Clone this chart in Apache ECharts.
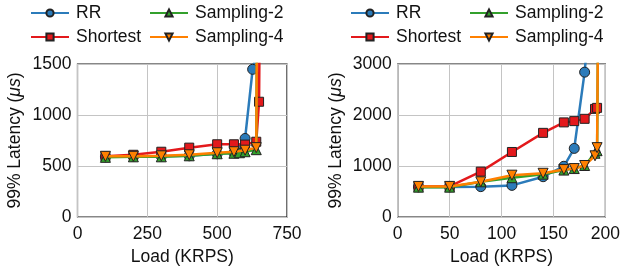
<!DOCTYPE html>
<html><head><meta charset="utf-8">
<script src="https://cdn.jsdelivr.net/npm/echarts@6/dist/echarts.min.js"></script>
<style>html,body{margin:0;padding:0;background:#fff}#c{width:623px;height:271px}</style>
</head><body><div id="c"></div>
<script>
// ---- data ----
const seriesNames = ['RR', 'Shortest', 'Sampling-2', 'Sampling-4'];
const leftXTicks = [0, 250, 500, 750];
const leftYTicks = [0, 500, 1000, 1500];
const rightXTicks = [0, 50, 100, 150, 200];
const rightYTicks = [0, 1000, 2000, 3000];

const leftRRx = [100, 200, 300, 400, 500, 560, 600, 627, 645];
const leftRRy = [590, 595, 595, 600, 620, 630, 770, 1448, 1650];
const leftShortestX = [100, 200, 300, 400, 500, 560, 600, 640, 650, 655];
const leftShortestY = [595, 610, 640, 680, 713, 713, 710, 738, 1130, 3000];
const leftS2x = [100, 200, 300, 400, 500, 560, 580, 600, 640, 645];
const leftS2y = [585, 590, 590, 600, 620, 625, 630, 640, 660, 3000];
const leftS4x = [100, 200, 300, 400, 500, 560, 600, 640, 645];
const leftS4y = [595, 595, 600, 610, 630, 640, 655, 680, 3000];

const rightRRx = [20, 50, 80, 110, 140, 160, 170, 180, 185];
const rightRRy = [590, 590, 595, 620, 790, 995, 1345, 2840, 4000];
const rightShortestX = [20, 50, 80, 110, 140, 160, 170, 180, 190, 192];
const rightShortestY = [600, 600, 890, 1275, 1650, 1855, 1880, 1925, 2120, 2140];
const rightS2x = [20, 50, 80, 110, 140, 160, 170, 180, 190, 192, 193];
const rightS2y = [585, 585, 690, 770, 840, 920, 950, 1010, 1250, 1300, 4000];
const rightS4x = [20, 50, 80, 110, 140, 160, 170, 180, 190, 192, 193];
const rightS4y = [600, 600, 690, 820, 857, 930, 950, 1010, 1200, 1360, 4000];

// ---- styles ----
const colors = ['#2b7bba', '#e3191c', '#33a02c', '#ff8000'];
const symbols = ['circle', 'rect', 'triangle', 'path://M0,0 L10,0 L5,10 Z'];
const FONT = '"Liberation Sans", Arial, sans-serif';
const FS = 17.5;

function pairs(xs, ys) { return xs.map((x, i) => [x, ys[i]]); }

const panels = [
  [pairs(leftRRx, leftRRy), pairs(leftShortestX, leftShortestY), pairs(leftS2x, leftS2y), pairs(leftS4x, leftS4y)],
  [pairs(rightRRx, rightRRy), pairs(rightShortestX, rightShortestY), pairs(rightS2x, rightS2y), pairs(rightS4x, rightS4y)]
];

const series = [];
panels.forEach((p, gi) => {
  p.forEach((d, si) => {
    series.push({
      name: seriesNames[si], type: 'line', xAxisIndex: gi, yAxisIndex: gi,
      data: d, symbol: symbols[si], symbolSize: si === 0 ? 10 : (si === 1 ? 9 : 10),
      clip: true, animation: false,
      lineStyle: { color: colors[si], width: 2.5 },
      itemStyle: { color: colors[si], borderColor: '#222', borderWidth: 1 },
      z: 2 + si
    });
  });
});

const fmt = v => String(v);
function xAxis(gi, ticks) {
  return {
    type: 'value', gridIndex: gi, min: ticks[0], max: ticks[ticks.length - 1],
    interval: ticks[1] - ticks[0],
    name: 'Load (KRPS)', nameLocation: 'middle', nameGap: 28,
    nameTextStyle: { fontFamily: FONT, fontSize: FS, color: '#111' },
    axisLine: { show: false }, axisTick: { show: false },
    axisLabel: { fontFamily: FONT, fontSize: FS, color: '#111', margin: 8, formatter: fmt },
    splitLine: { show: true, lineStyle: { color: '#c4c4c4', width: 1 } }
  };
}
function yAxis(gi, ticks) {
  return {
    type: 'value', gridIndex: gi, min: ticks[0], max: ticks[ticks.length - 1],
    interval: ticks[1] - ticks[0],
    name: '99% Latency ({i|μs})', nameLocation: 'middle', nameGap: 53, nameRotate: 90,
    nameTextStyle: { fontFamily: FONT, fontSize: FS, color: '#111',
      rich: { i: { fontFamily: FONT, fontSize: FS, fontStyle: 'italic', color: '#111' } } },
    axisLine: { show: false }, axisTick: { show: false },
    axisLabel: { fontFamily: FONT, fontSize: FS, color: '#111', margin: 6, formatter: fmt },
    splitLine: { show: true, lineStyle: { color: '#c4c4c4', width: 1 } }
  };
}
function legend(left, names) {
  return {
    left: left, top: 4, orient: 'vertical', data: names,
    itemWidth: 38, itemHeight: 9, itemGap: 6,
    textStyle: { fontFamily: FONT, fontSize: FS, color: '#111', padding: [0, 0, 0, 2] },
    padding: 0
  };
}

const chart = echarts.init(document.getElementById('c'), null, { renderer: 'canvas' });
chart.setOption({
  animation: false,
  color: colors,
  legend: [
    legend(30, ['RR', 'Shortest']), legend(149, ['Sampling-2', 'Sampling-4']),
    legend(350, ['RR', 'Shortest']), legend(469, ['Sampling-2', 'Sampling-4'])
  ],
  grid: [
    { left: 77.5, right: 336, top: 64, bottom: 54, show: true, borderColor: '#111', borderWidth: 1.2, backgroundColor: 'transparent' },
    { left: 397.7, right: 16.3, top: 64, bottom: 54, show: true, borderColor: '#111', borderWidth: 1.2, backgroundColor: 'transparent' }
  ],
  xAxis: [xAxis(0, leftXTicks), xAxis(1, rightXTicks)],
  yAxis: [yAxis(0, leftYTicks), yAxis(1, rightYTicks)],
  series: series
});
</script></body></html>
